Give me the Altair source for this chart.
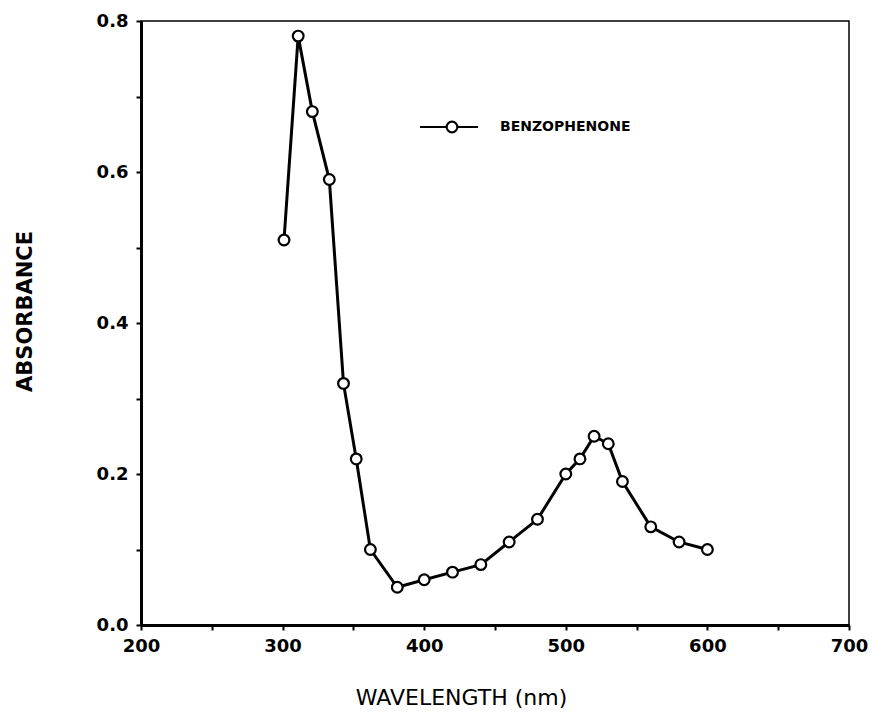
import altair as alt
import pandas as pd

wavelength = [301, 311, 321, 333, 343, 352, 362, 381, 400, 420, 440, 460, 480,
              500, 510, 520, 530, 540, 560, 580, 600]
absorbance = [0.51, 0.78, 0.68, 0.59, 0.32, 0.22, 0.10, 0.05, 0.06, 0.07, 0.08,
              0.11, 0.14, 0.20, 0.22, 0.25, 0.24, 0.19, 0.13, 0.11, 0.10]
series_name = "BENZOPHENONE"
x_ticks = [200, 250, 300, 350, 400, 450, 500, 550, 600, 650, 700]
y_ticks = [0.0, 0.1, 0.2, 0.3, 0.4, 0.5, 0.6, 0.7, 0.8]

df = pd.DataFrame({"wavelength": wavelength, "absorbance": absorbance})
leg = pd.DataFrame({"name": [series_name]})

FONT = "DejaVu Sans"

x_enc = alt.X("wavelength:Q",
              scale=alt.Scale(domain=[200, 700], nice=False, zero=False),
              axis=alt.Axis(values=x_ticks,
                            labelExpr="datum.value % 100 == 0 ? datum.label : ''",
                            labelFlush=False, labelOverlap=False,
                            title="WAVELENGTH (nm)",
                            titleX=320, titleY=72, titleBaseline="middle",
                            titleFontSize=22, titleFontWeight="normal",
                            labelPadding=7))
y_enc = alt.Y("absorbance:Q",
              scale=alt.Scale(domain=[0, 0.8], nice=False),
              axis=alt.Axis(values=y_ticks,
                            labelExpr="round(datum.value*10) % 2 == 0 ? format(datum.value, '.1f') : ''",
                            labelFlush=False, labelOverlap=False,
                            title="ABSORBANCE",
                            titleX=-116, titleY=290, titleAngle=270,
                            titleBaseline="middle", titleAlign="center",
                            titleFontSize=21, titleFontWeight="bold",
                            labelPadding=8))

line = alt.Chart(df).mark_line(color="black", strokeWidth=3).encode(x=x_enc, y=y_enc)
pts = alt.Chart(df).mark_point(shape="circle", filled=True, fill="white",
                               stroke="black", strokeWidth=2.2, size=115,
                               opacity=1).encode(x="wavelength:Q", y="absorbance:Q")

leg_rule = alt.Chart(leg).mark_rule(color="black", strokeWidth=2).encode(
    x=alt.value(279), x2=alt.value(337), y=alt.value(106))
leg_pt = alt.Chart(leg).mark_point(shape="circle", filled=True, fill="white",
                                   stroke="black", strokeWidth=2.2, size=115,
                                   opacity=1).encode(x=alt.value(311), y=alt.value(106))
leg_txt = alt.Chart(leg).mark_text(align="left", baseline="middle", font=FONT,
                                   fontWeight="bold", fontSize=14,
                                   color="black").encode(
    x=alt.value(359), y=alt.value(106), text="name:N")

chart = alt.layer(line, pts, leg_rule, leg_pt, leg_txt).properties(
    width=708, height=604,
    background="white",
    autosize=alt.AutoSizeParams(type="none"),
    padding={"left": 141, "top": 21, "right": 24, "bottom": 92},
).configure_view(stroke="black", strokeWidth=1.5).configure_axis(
    grid=False, domainColor="black", domainWidth=3, tickColor="black",
    tickWidth=2, tickSize=5, labelFont=FONT, labelFontSize=18,
    labelFontWeight="bold", labelColor="black", titleFont=FONT,
    titleColor="black",
)

chart.save("out.html", embed_options={"renderer": "svg", "actions": False})
